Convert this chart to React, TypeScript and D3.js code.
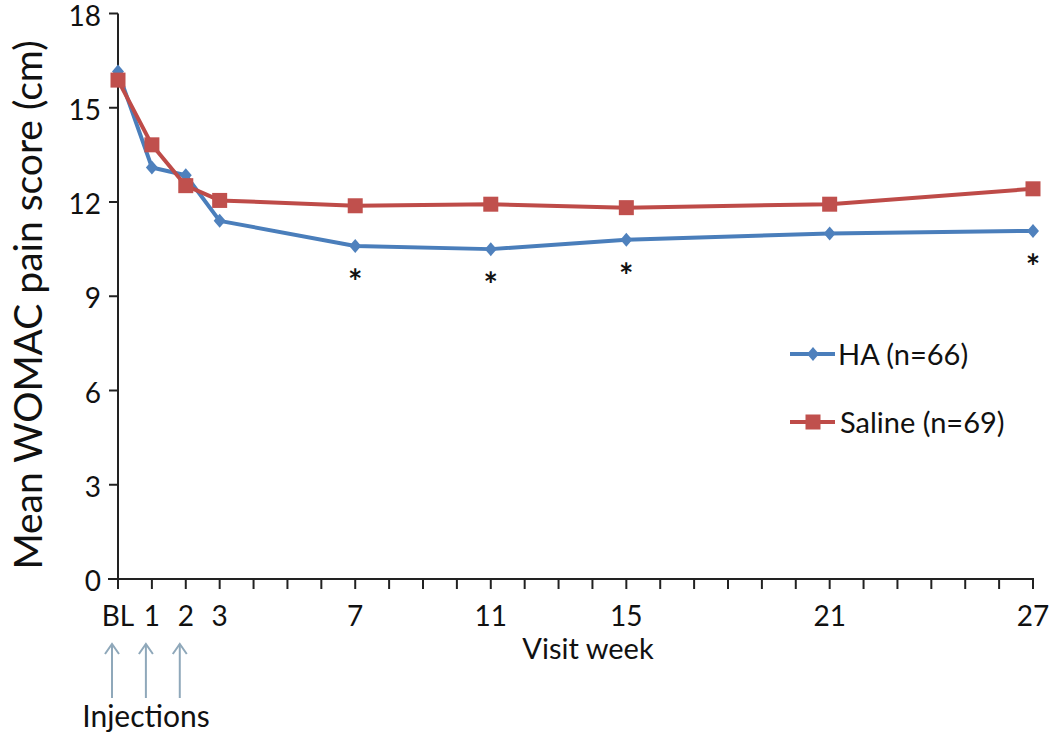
import React from "react";
import * as d3 from "d3";

const weeks = [0, 1, 2, 3, 7, 11, 15, 21, 27];
const haValues = [16.15, 13.1, 12.85, 11.4, 10.6, 10.5, 10.8, 11.0, 11.08];
const salineValues = [15.88, 13.82, 12.52, 12.05, 11.88, 11.93, 11.82, 11.93, 12.42];
const xTickLabels: [number, string][] = [
  [0, "BL"], [1, "1"], [2, "2"], [3, "3"], [7, "7"], [11, "11"], [15, "15"], [21, "21"], [27, "27"],
];
const yTicks = [0, 3, 6, 9, 12, 15, 18];
const significantWeeks = [7, 11, 15, 27];
const injectionWeeks = [0, 1, 2];
const seriesNames = ["HA (n=66)", "Saline (n=69)"];

const FONT = "Lato, 'Open Sans', sans-serif";
const BLUE_LINE = "#4A7EBB";
const BLUE = "#4F81BD";
const RED_LINE = "#BE4B48";
const RED = "#C0504D";

export default function App() {
  const x = d3.scaleLinear().domain([0, 27]).range([118, 1033]);
  const y = d3.scaleLinear().domain([0, 18]).range([579, 13.5]);

  const line = d3
    .line<[number, number]>()
    .x((d) => x(d[0]))
    .y((d) => y(d[1]));

  const haPts: [number, number][] = weeks.map((w, i) => [w, haValues[i]]);
  const salPts: [number, number][] = weeks.map((w, i) => [w, salineValues[i]]);

  const diamond = (cx: number, cy: number, w = 6, h = 7) =>
    `M${cx},${cy - h}L${cx + w},${cy}L${cx},${cy + h}L${cx - w},${cy}Z`;
  const sq = 15;

  const allTicks = d3.range(0, 28);

  return (
    <svg
      width={1050}
      height={735}
      style={{ position: "absolute", left: 0, top: 0, background: "#fff" }}
    >
      {/* axes */}
      <line x1={118} x2={118} y1={y(18)} y2={y(0) + 1} stroke="#222" strokeWidth={2} />
      <line x1={108} x2={x(27) + 1} y1={y(0)} y2={y(0)} stroke="#222" strokeWidth={2} />
      {yTicks.map((t) => (
        <g key={"yt" + t}>
          <line x1={109} x2={118} y1={y(t)} y2={y(t)} stroke="#222" strokeWidth={2} />
          <text
            x={101}
            y={y(t) + 12}
            textAnchor="end"
            fontFamily={FONT}
            fontSize={28}
            fill="#111"
          >
            {t}
          </text>
        </g>
      ))}
      {allTicks.map((t) => (
        <line
          key={"xt" + t}
          x1={x(t)}
          x2={x(t)}
          y1={y(0)}
          y2={y(0) + 10}
          stroke="#222"
          strokeWidth={2}
        />
      ))}
      {xTickLabels.map(([w, lab]) => (
        <text
          key={"xl" + w}
          x={x(w)}
          y={626}
          textAnchor="middle"
          fontFamily={FONT}
          fontSize={28}
          fill="#111"
        >
          {lab}
        </text>
      ))}
      <text x={588} y={659} textAnchor="middle" fontFamily={FONT} fontSize={29} fill="#111">
        Visit week
      </text>
      <text
        transform={`translate(42,${305}) rotate(-90)`}
        textAnchor="middle"
        fontFamily={FONT}
        fontSize={39}
        fill="#111"
      >
        Mean WOMAC pain score (cm)
      </text>

      {/* injections */}
      {injectionWeeks.map((w) => (
        <g key={"inj" + w} stroke="#8FA8BA" strokeWidth={2} fill="none">
          <line x1={x(w) - 6} x2={x(w) - 6} y1={644} y2={698} />
          <path d={`M${x(w) - 13},${654}L${x(w) - 6},${644}L${x(w) + 1},${654}`} />
        </g>
      ))}
      <text x={146} y={727} textAnchor="middle" fontFamily={FONT} fontSize={30} fill="#111">
        Injections
      </text>

      {/* HA series */}
      <path d={line(haPts) || ""} fill="none" stroke={BLUE_LINE} strokeWidth={4} strokeLinejoin="round" />
      {haPts.map(([w, v]) => (
        <path key={"ha" + w} d={diamond(x(w), y(v))} fill={BLUE} />
      ))}
      {/* Saline series */}
      <path d={line(salPts) || ""} fill="none" stroke={RED_LINE} strokeWidth={4} strokeLinejoin="round" />
      {salPts.map(([w, v]) => (
        <rect key={"sa" + w} x={x(w) - sq / 2} y={y(v) - sq / 2} width={sq} height={sq} fill={RED} />
      ))}

      {/* significance markers */}
      {significantWeeks.map((w) => {
        const v = haValues[weeks.indexOf(w)];
        return (
          <text
            key={"sig" + w}
            x={x(w)}
            y={y(v) + 48}
            textAnchor="middle"
            fontFamily={FONT}
            fontSize={34}
            fontWeight="bold"
            fill="#111"
          >
            *
          </text>
        );
      })}

      {/* legend */}
      <line x1={790} x2={835} y1={354} y2={354} stroke={BLUE_LINE} strokeWidth={4} />
      <path d={diamond(813, 354)} fill={BLUE} />
      <text x={838} y={365} fontFamily={FONT} fontSize={29} fill="#111">
        {seriesNames[0]}
      </text>
      <line x1={790} x2={835} y1={422} y2={422} stroke={RED_LINE} strokeWidth={4} />
      <rect x={813 - sq / 2} y={422 - sq / 2} width={sq} height={sq} fill={RED} />
      <text x={840} y={433} fontFamily={FONT} fontSize={29} fill="#111">
        {seriesNames[1]}
      </text>
    </svg>
  );
}
